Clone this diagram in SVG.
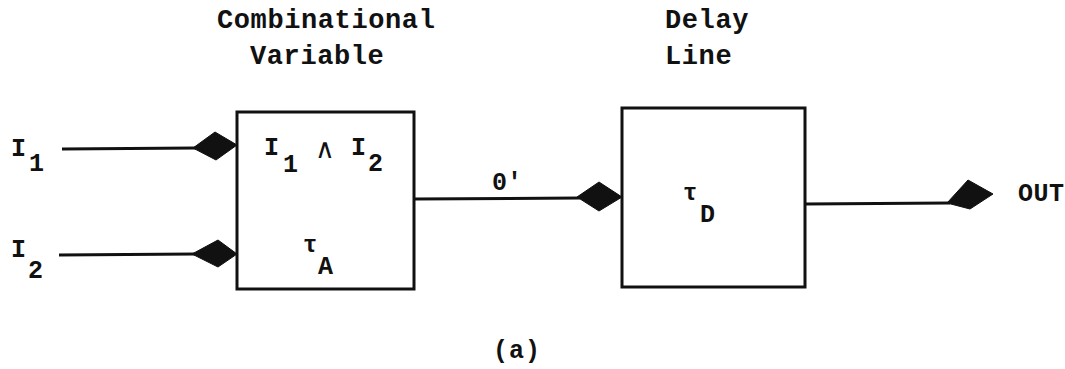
<svg xmlns="http://www.w3.org/2000/svg" width="1065" height="369" viewBox="0 0 1065 369">
<style>
.t{font-family:"Liberation Mono","DejaVu Sans Mono",monospace;fill:#111;font-weight:bold}
.title{font-size:27px;letter-spacing:0.6px}
.lab{font-size:25px}
.sym{font-family:"DejaVu Sans",sans-serif;font-weight:normal}
.box{fill:#fff;stroke:#111;stroke-width:3}
.wire{stroke:#111;stroke-width:3;fill:none}
.dia{fill:#111;stroke:#111;stroke-width:1}
</style>
<rect width="1065" height="369" fill="#fff"/>
<g id="title-comb">
<text class="t title" x="217" y="28">Combinational</text>
<text class="t title" x="250" y="64">Variable</text>
</g>
<g id="title-delay">
<text class="t title" x="665" y="28">Delay</text>
<text class="t title" x="665" y="64">Line</text>
</g>
<g id="connectors">
<line class="wire" x1="62" y1="149" x2="196" y2="148"/>
<polygon class="dia" points="193,148 215,132 237,145 216,160"/>
<line class="wire" x1="59" y1="255" x2="195" y2="254"/>
<polygon class="dia" points="192,254 218,240 237,254 218,267"/>
<line class="wire" x1="414" y1="199" x2="580" y2="198"/>
<polygon class="dia" points="577,197 599,182 622,197 599,211"/>
<line class="wire" x1="805" y1="204" x2="950" y2="203"/>
<polygon class="dia" points="947,203 968,180 993,194 970,209"/>
</g>
<g id="input-I1">
<text class="t lab" x="11" y="156">I</text>
<text class="t lab" x="29" y="171">1</text>
</g>
<g id="input-I2">
<text class="t lab" x="11" y="257">I</text>
<text class="t lab" x="28" y="278">2</text>
</g>
<g id="node-comb">
<rect class="box" x="237" y="112" width="177" height="177"/>
<text class="t lab" x="264" y="155">I</text>
<text class="t lab" x="283" y="172">1</text>
<text class="t lab sym" x="315" y="158" style="font-size:27px">∧</text>
<text class="t lab" x="351" y="155">I</text>
<text class="t lab" x="368" y="171">2</text>
<text class="t lab" x="303" y="252" style="font-size:24px">τ</text>
<text class="t lab" x="318" y="274">A</text>
</g>
<g id="label-O">
<text class="t lab" x="492" y="190">0'</text>
</g>
<g id="node-delay">
<rect class="box" x="622" y="108" width="183" height="179"/>
<text class="t lab" x="683" y="200" style="font-size:24px">τ</text>
<text class="t lab" x="700" y="222">D</text>
</g>
<g id="output">
<text class="t lab" x="1018" y="201" style="letter-spacing:0.5px">OUT</text>
</g>
<g id="caption">
<text class="t lab" x="493" y="358" style="letter-spacing:1px">(a)</text>
</g>
</svg>
